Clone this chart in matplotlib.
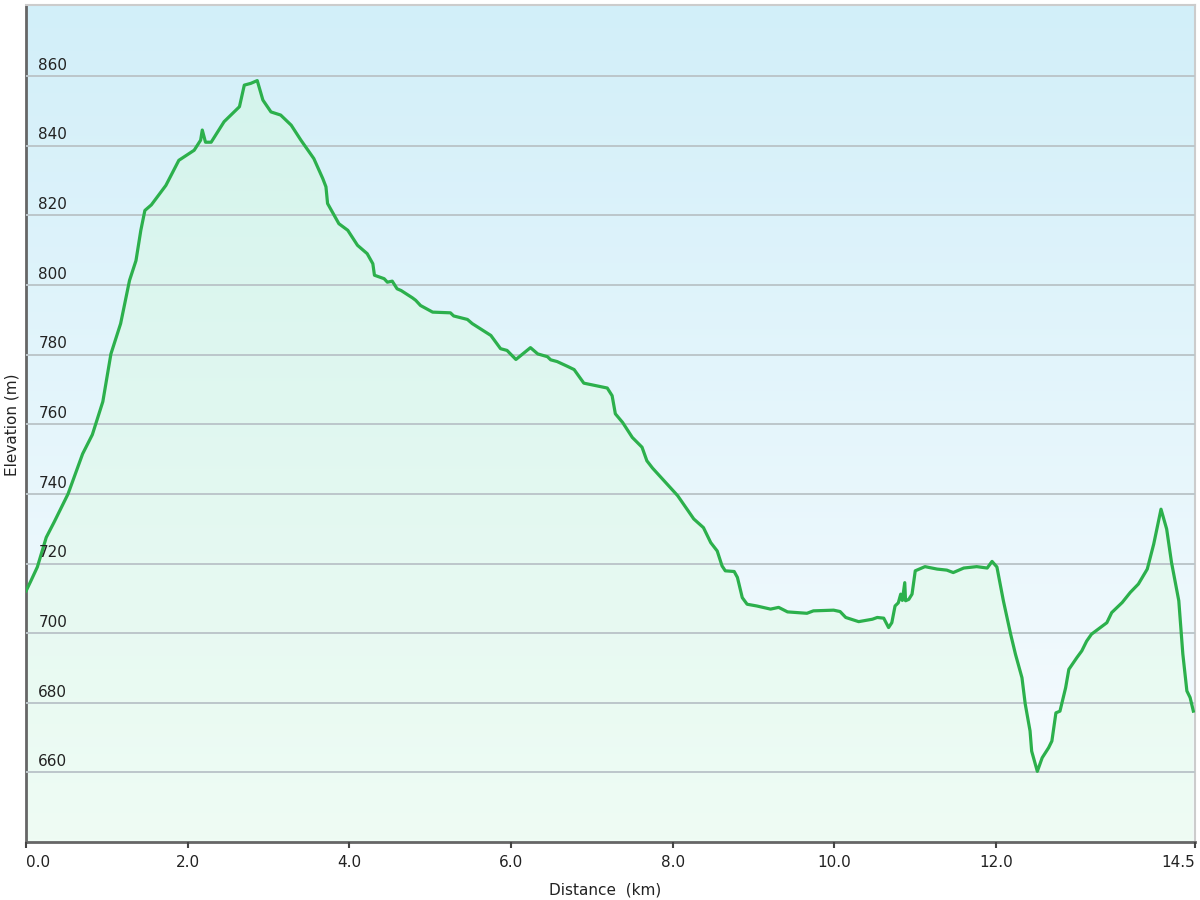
# Elevation profile chart
import numpy as np
import matplotlib
matplotlib.use("Agg")
import matplotlib.pyplot as plt
from matplotlib.colors import LinearSegmentedColormap

# Data
distance_km = [0.00, 0.06, 0.14, 0.25, 0.35, 0.52, 0.70, 0.82, 0.95, 1.05, 1.17, 1.28, 1.36, 1.42, 1.47,
               1.55, 1.73, 1.89, 2.08, 2.16, 2.18, 2.22, 2.29, 2.45, 2.64, 2.70, 2.78, 2.86, 2.93, 3.03,
               3.15, 3.28, 3.40, 3.56, 3.67, 3.71, 3.73, 3.87, 3.98, 4.10, 4.22, 4.29, 4.31, 4.43, 4.47,
               4.53, 4.59, 4.64, 4.78, 4.82, 4.88, 5.03, 5.25, 5.29, 5.46, 5.52, 5.75, 5.87, 5.95, 6.06,
               6.24, 6.33, 6.45, 6.49, 6.57, 6.70, 6.78, 6.90, 7.11, 7.19, 7.25, 7.29, 7.38, 7.50, 7.62,
               7.68, 7.75, 7.93, 8.06, 8.26, 8.38, 8.47, 8.55, 8.61, 8.65, 8.76, 8.80, 8.86, 8.92, 9.04,
               9.21, 9.31, 9.42, 9.66, 9.74, 9.99, 10.07, 10.14, 10.30, 10.47, 10.53, 10.61, 10.67, 10.71,
               10.75, 10.79, 10.82, 10.84, 10.87, 10.88, 10.92, 10.96, 11.00, 11.12, 11.27, 11.39, 11.47,
               11.60, 11.76, 11.89, 11.95, 12.01, 12.09, 12.18, 12.24, 12.32, 12.36, 12.42, 12.44, 12.51,
               12.57, 12.65, 12.69, 12.74, 12.79, 12.86, 12.90, 13.00, 13.06, 13.12, 13.18, 13.29, 13.37,
               13.43, 13.56, 13.66, 13.76, 13.87, 13.95, 14.04, 14.11, 14.17, 14.26, 14.31, 14.36, 14.40,
               14.44]
elevation_m = [712.1, 715.0, 719.0, 727.5, 732.0, 740.0, 751.5, 757.0, 766.5, 780.2, 788.9, 801.3, 807.0, 815.7, 821.4,
               823.0, 828.6, 835.8, 838.7, 841.6, 844.5, 841.0, 841.0, 846.9, 851.2, 857.4, 857.9, 858.7, 853.1, 849.7,
               848.8, 845.9, 841.6, 836.3, 830.6, 828.2, 823.4, 817.6, 815.7, 811.4, 809.0, 806.1, 802.8, 801.8, 800.8,
               801.1, 798.9, 798.4, 796.3, 795.6, 794.1, 792.2, 792.0, 791.1, 790.1, 788.9, 785.5, 781.7, 781.2, 778.6,
               782.0, 780.2, 779.4, 778.5, 778.0, 776.6, 775.7, 771.8, 770.8, 770.4, 768.2, 763.0, 760.5, 756.2, 753.4,
               749.5, 747.4, 742.8, 739.5, 732.8, 730.3, 726.0, 723.6, 719.3, 717.9, 717.7, 716.0, 710.2, 708.3, 707.8,
               706.9, 707.4, 706.1, 705.7, 706.4, 706.6, 706.2, 704.5, 703.3, 704.0, 704.5, 704.3, 701.6, 703.0,
               707.8, 708.7, 711.2, 709.4, 714.5, 709.3, 709.7, 711.2, 717.9, 719.1, 718.4, 718.1, 717.4,
               718.7, 719.1, 718.7, 720.6, 719.0, 709.3, 699.7, 693.9, 687.2, 679.7, 671.9, 666.1, 660.3,
               664.2, 667.1, 669.0, 677.1, 677.6, 684.3, 689.6, 693.0, 694.9, 697.7, 699.7, 701.6, 703.0,
               705.9, 708.8, 711.7, 714.1, 718.4, 725.6, 735.6, 729.9, 720.3, 709.3, 694.0, 683.4, 681.5,
               677.6]

x_ticks = [0, 2, 4, 6, 8, 10, 12, 14.46]
x_tick_labels = ['0.0', '2.0', '4.0', '6.0', '8.0', '10.0', '12.0', '14.5']
y_grid = [660, 680, 700, 720, 740, 760, 780, 800, 820, 840, 860]

x_max = 14.46
y_min, y_max = 640, 880.4

fig = plt.figure(figsize=(12, 9), dpi=100)
ax = fig.add_axes([0.0217, 0.0644, 0.9741, 0.9300])

# background gradient (light blue at top -> almost white at bottom)
grad = np.linspace(0, 1, 256).reshape(-1, 1)
bg_cmap = LinearSegmentedColormap.from_list('bg', ['#f8fcfe', '#d2eff9'])
ax.imshow(grad, extent=[0, x_max, y_min, y_max], origin='lower', aspect='auto',
          cmap=bg_cmap, zorder=0)

# area under the profile, its own gradient clipped to the polygon
area = ax.fill_between(distance_km, elevation_m, y_min, color='none', lw=0)
fill_cmap = LinearSegmentedColormap.from_list('fill', ['#effcf4', '#d2f3ec'])
im = ax.imshow(grad, extent=[0, x_max, y_min, y_max], origin='lower', aspect='auto',
               cmap=fill_cmap, zorder=1)
im.set_clip_path(area.get_paths()[0], transform=ax.transData)

ax.plot(distance_km, elevation_m, color='#2cb04c', lw=2.3, zorder=4, solid_joinstyle='round')

ax.set_xlim(0, x_max)
ax.set_ylim(y_min, y_max)

# horizontal grid
ax.set_yticks(y_grid)
ax.tick_params(axis='y', length=0, labelleft=False)
ax.yaxis.grid(True, color='#bcc6ca', lw=1.4, zorder=2)
ax.set_axisbelow(False)

# y labels sit inside the plot, just above their grid line
for v in y_grid:
    ax.annotate(str(v), xy=(0.0105, v), xycoords=('axes fraction', 'data'),
                xytext=(0, 4.5), textcoords='offset points',
                ha='left', va='baseline', fontsize=11, color='#222222', zorder=5)

ax.set_xticks(x_ticks)
ax.set_xticklabels(x_tick_labels, fontsize=11, color='#222222')
ax.tick_params(axis='x', direction='out', length=4, width=1.5, color='#444444', pad=5)
labels = ax.get_xticklabels()
labels[0].set_ha('left')
labels[-1].set_ha('right')

for side in ['left', 'bottom']:
    ax.spines[side].set_color('#666666')
    ax.spines[side].set_linewidth(2)
for side in ['top', 'right']:
    ax.spines[side].set_color('#cccccc')
    ax.spines[side].set_linewidth(1.5)

fig.text(0.504, 0.011, 'Distance  (km)', ha='center', va='center', fontsize=11, color='#222222')
fig.text(0.010, 0.528, 'Elevation (m)', ha='center', va='center', rotation=90, fontsize=11, color='#222222')

fig.savefig('out.png', dpi=100, facecolor='white')
